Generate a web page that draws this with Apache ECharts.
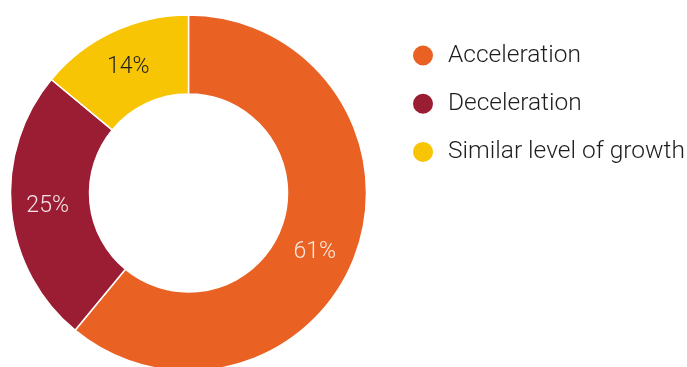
<!DOCTYPE html>
<html>
<head>
<meta charset="utf-8">
<style>
  html, body { margin: 0; padding: 0; background: #ffffff; }
  #chart { width: 687px; height: 367px; }
</style>
<script src="https://cdn.jsdelivr.net/npm/echarts@6/dist/echarts.min.js"></script>
</head>
<body>
<div id="chart"></div>
<script>
// Share of responses by expected growth pattern
const categories = ['Acceleration', 'Deceleration', 'Similar level of growth'];
const shares = [61, 25, 14];
const colors = ['#e96223', '#9b1d33', '#f8c505'];
const labelColors = ['#fbe9df', '#f6e3e6', '#1e1e1e'];
const labelOffsets = [[-7, 11], [0, 0], [0, 2]];

const chart = echarts.init(document.getElementById('chart'), null, { renderer: 'canvas' });

const data = categories.map((name, i) => ({
  name: name,
  value: shares[i],
  itemStyle: { color: colors[i] },
  label: { color: labelColors[i], offset: labelOffsets[i] }
}));

chart.setOption({
  animation: false,
  legend: {
    orient: 'vertical',
    left: 411,
    top: 43,
    padding: 0,
    icon: 'circle',
    itemWidth: 22,
    itemHeight: 22,
    itemGap: 23.2,
    textStyle: {
      fontFamily: 'Roboto',
      fontWeight: 300,
      fontSize: 24.5,
      color: '#1e1e1e',
      padding: [0, 0, 0, 9]
    },
    data: categories
  },
  series: [{
    type: 'pie',
    center: [188.5, 193],
    radius: [99, 178],
    startAngle: 90,
    clockwise: true,
    avoidLabelOverlap: false,
    itemStyle: { borderColor: '#ffffff', borderWidth: 1.5 },
    label: {
      show: true,
      position: 'inside',
      formatter: '{c}%',
      fontFamily: 'Roboto',
      fontWeight: 300,
      fontSize: 23
    },
    labelLine: { show: false },
    emphasis: { disabled: true },
    data: data
  }]
});
</script>
</body>
</html>
